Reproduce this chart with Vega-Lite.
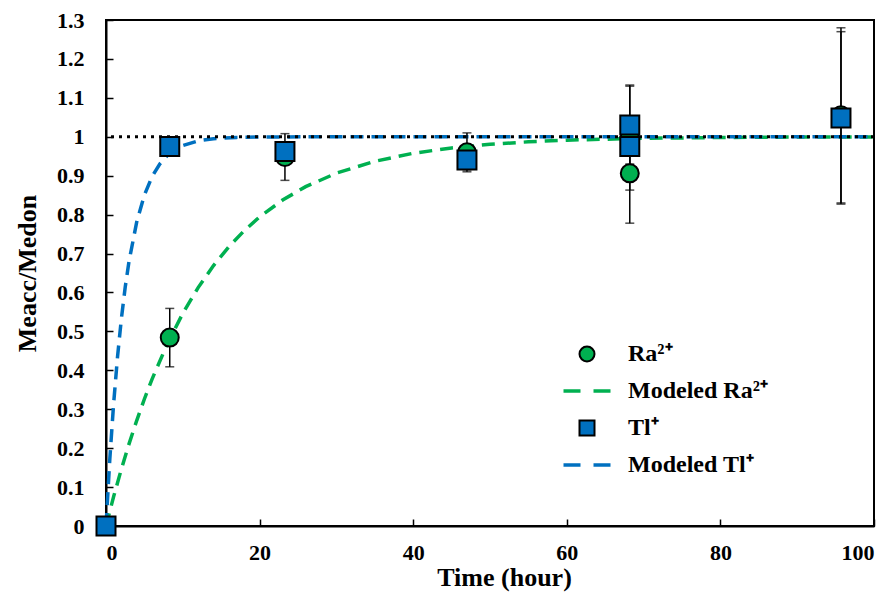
{
  "$schema": "https://vega.github.io/schema/vega-lite/v6.json",
  "width": 768,
  "height": 506,
  "autosize": {"type": "none"},
  "padding": {"left": 106, "top": 20, "right": 21, "bottom": 66},
  "background": "white",
  "config": {
    "view": {"stroke": "black", "strokeWidth": 2},
    "font": "Liberation Serif",
    "axis": {
      "labelFont": "Liberation Serif", "labelFontWeight": "bold", "labelFontSize": 22, "labelColor": "black",
      "titleFont": "Liberation Serif", "titleFontWeight": "bold", "titleColor": "black",
      "domainColor": "black", "domainWidth": 2, "tickColor": "black", "tickWidth": 1.5, "grid": false, "labelOverlap": false
    },
    "axisX": {"titleFontSize": 26, "tickSize": -7, "labelPadding": 23, "titlePadding": 1, "titleX": 398},
    "axisY": {"titleFontSize": 26, "tickSize": -7, "labelPadding": 29, "titlePadding": 16}
  },
  "datasets": {
    "obs": [
      {"t": 0, "y": 0, "series": "Ra²⁺"},
      {"t": 8.3, "y": 0.484, "lo": 0.409, "hi": 0.559, "series": "Ra²⁺"},
      {"t": 23.3, "y": 0.948, "lo": 0.888, "hi": 1.008, "series": "Ra²⁺"},
      {"t": 47, "y": 0.96, "lo": 0.91, "hi": 1.01, "series": "Ra²⁺"},
      {"t": 68.2, "y": 0.906, "lo": 0.778, "hi": 1.034, "series": "Ra²⁺"},
      {"t": 68.2, "y": 0.998, "lo": 0.863, "hi": 1.133, "series": "Ra²⁺"},
      {"t": 95.7, "y": 1.055, "lo": 0.827, "hi": 1.28, "series": "Ra²⁺"},
      {"t": 0, "y": 0, "series": "Tl⁺"},
      {"t": 8.3, "y": 0.975, "lo": 0.965, "hi": 0.985, "series": "Tl⁺"},
      {"t": 23.3, "y": 0.962, "lo": 0.94, "hi": 0.985, "series": "Tl⁺"},
      {"t": 47, "y": 0.94, "lo": 0.915, "hi": 0.965, "series": "Tl⁺"},
      {"t": 68.2, "y": 1.03, "lo": 0.93, "hi": 1.13, "series": "Tl⁺"},
      {"t": 68.2, "y": 0.975, "lo": 0.95, "hi": 1.0, "series": "Tl⁺"},
      {"t": 95.7, "y": 1.048, "lo": 0.83, "hi": 1.27, "series": "Tl⁺"}
    ],
    "model": [
      {"t": 0, "y": 0, "series": "Modeled Ra²⁺"},
      {"t": 1, "y": 0.076, "series": "Modeled Ra²⁺"},
      {"t": 2, "y": 0.1461, "series": "Modeled Ra²⁺"},
      {"t": 3, "y": 0.211, "series": "Modeled Ra²⁺"},
      {"t": 4, "y": 0.2709, "series": "Modeled Ra²⁺"},
      {"t": 5, "y": 0.3263, "series": "Modeled Ra²⁺"},
      {"t": 6, "y": 0.3775, "series": "Modeled Ra²⁺"},
      {"t": 8, "y": 0.4685, "series": "Modeled Ra²⁺"},
      {"t": 10, "y": 0.5462, "series": "Modeled Ra²⁺"},
      {"t": 12, "y": 0.6125, "series": "Modeled Ra²⁺"},
      {"t": 14, "y": 0.6691, "series": "Modeled Ra²⁺"},
      {"t": 16, "y": 0.7175, "series": "Modeled Ra²⁺"},
      {"t": 18, "y": 0.7588, "series": "Modeled Ra²⁺"},
      {"t": 20, "y": 0.794, "series": "Modeled Ra²⁺"},
      {"t": 23, "y": 0.8375, "series": "Modeled Ra²⁺"},
      {"t": 26, "y": 0.8718, "series": "Modeled Ra²⁺"},
      {"t": 30, "y": 0.9065, "series": "Modeled Ra²⁺"},
      {"t": 35, "y": 0.937, "series": "Modeled Ra²⁺"},
      {"t": 40, "y": 0.9576, "series": "Modeled Ra²⁺"},
      {"t": 45, "y": 0.9714, "series": "Modeled Ra²⁺"},
      {"t": 50, "y": 0.9807, "series": "Modeled Ra²⁺"},
      {"t": 55, "y": 0.987, "series": "Modeled Ra²⁺"},
      {"t": 60, "y": 0.9913, "series": "Modeled Ra²⁺"},
      {"t": 70, "y": 0.996, "series": "Modeled Ra²⁺"},
      {"t": 80, "y": 0.9982, "series": "Modeled Ra²⁺"},
      {"t": 90, "y": 0.9992, "series": "Modeled Ra²⁺"},
      {"t": 100, "y": 0.9996, "series": "Modeled Ra²⁺"},
      {"t": 0, "y": 0, "series": "Modeled Tl⁺"},
      {"t": 0.5, "y": 0.173, "series": "Modeled Tl⁺"},
      {"t": 1, "y": 0.3161, "series": "Modeled Tl⁺"},
      {"t": 1.5, "y": 0.4345, "series": "Modeled Tl⁺"},
      {"t": 2, "y": 0.5323, "series": "Modeled Tl⁺"},
      {"t": 2.5, "y": 0.6133, "series": "Modeled Tl⁺"},
      {"t": 3, "y": 0.6802, "series": "Modeled Tl⁺"},
      {"t": 4, "y": 0.7813, "series": "Modeled Tl⁺"},
      {"t": 5, "y": 0.8504, "series": "Modeled Tl⁺"},
      {"t": 6, "y": 0.8977, "series": "Modeled Tl⁺"},
      {"t": 7, "y": 0.9301, "series": "Modeled Tl⁺"},
      {"t": 8, "y": 0.9522, "series": "Modeled Tl⁺"},
      {"t": 10, "y": 0.9776, "series": "Modeled Tl⁺"},
      {"t": 12, "y": 0.9895, "series": "Modeled Tl⁺"},
      {"t": 14, "y": 0.9951, "series": "Modeled Tl⁺"},
      {"t": 17, "y": 0.9984, "series": "Modeled Tl⁺"},
      {"t": 20, "y": 0.9995, "series": "Modeled Tl⁺"},
      {"t": 30, "y": 1.0, "series": "Modeled Tl⁺"},
      {"t": 100, "y": 1.0, "series": "Modeled Tl⁺"}
    ]
  },
  "layer": [
    {
      "data": {"name": "obs"},
      "mark": {"type": "point", "filled": true, "opacity": 0},
      "encoding": {
        "x": {"field": "t", "type": "quantitative", "scale": {"domain": [0, 100], "nice": false},
          "axis": {"title": "Time (hour)", "values": [0, 20, 40, 60, 80, 100], "labelOverlap": false}},
        "y": {"field": "y", "type": "quantitative", "scale": {"domain": [0, 1.3], "nice": false},
          "axis": {"title": "Meacc/Medon", "values": [0, 0.1, 0.2, 0.3, 0.4, 0.5, 0.6, 0.7, 0.8, 0.9, 1, 1.1, 1.2, 1.3], "format": ".1~f", "labelOverlap": false}},
        "color": {
          "field": "series", "type": "nominal",
          "scale": {"domain": ["Ra²⁺", "Modeled Ra²⁺", "Tl⁺", "Modeled Tl⁺"], "range": ["#00b050", "#00b050", "#0070c0", "#0070c0"]},
          "legend": {
            "orient": "none", "legendX": 469, "legendY": 322, "title": null, "padding": 0,
            "symbolSize": 2209, "symbolOpacity": 1, "labelFont": "Liberation Serif", "labelFontWeight": "bold", "labelFontSize": 24, "labelColor": "black",
            "labelOffset": 29, "rowPadding": 13,
            "encode": {"symbols": {"update": {
              "shape": {"signal": "datum.value === 'Ra²⁺' ? 'circle' : datum.value === 'Tl⁺' ? 'square' : 'stroke'"},
              "size": {"signal": "(datum.value === 'Ra²⁺' || datum.value === 'Tl⁺') ? 225 : 2209"},
              "fill": {"signal": "datum.value === 'Ra²⁺' ? '#00b050' : datum.value === 'Tl⁺' ? '#0070c0' : 'transparent'"},
              "stroke": {"signal": "(datum.value === 'Ra²⁺' || datum.value === 'Tl⁺') ? 'black' : (datum.value === 'Modeled Ra²⁺' ? '#00b050' : '#0070c0')"},
              "strokeWidth": {"signal": "(datum.value === 'Ra²⁺' || datum.value === 'Tl⁺') ? 2 : 3.5"},
              "strokeDash": {"signal": "(datum.value === 'Ra²⁺' || datum.value === 'Tl⁺') ? [] : [17, 13]"},
              "opacity": {"value": 1}
            }}}
          }
        }
      }
    },
    {
      "data": {"name": "model"},
      "transform": [{"filter": "datum.series === 'Modeled Ra²⁺'"}],
      "mark": {"type": "line", "stroke": "#00b050", "strokeDash": [13, 8], "strokeWidth": 3.5},
      "encoding": {
        "x": {"field": "t", "type": "quantitative", "axis": {"title": "Time (hour)", "values": [0, 20, 40, 60, 80, 100], "labelOverlap": false}},
        "y": {"field": "y", "type": "quantitative", "axis": {"title": "Meacc/Medon", "values": [0, 0.1, 0.2, 0.3, 0.4, 0.5, 0.6, 0.7, 0.8, 0.9, 1, 1.1, 1.2, 1.3], "format": ".1~f", "labelOverlap": false}}
      }
    },
    {
      "data": {"name": "model"},
      "transform": [{"filter": "datum.series === 'Modeled Tl⁺'"}],
      "mark": {"type": "line", "stroke": "#0070c0", "strokeDash": [13, 8], "strokeWidth": 3.5},
      "encoding": {
        "x": {"field": "t", "type": "quantitative", "axis": {"title": "Time (hour)", "values": [0, 20, 40, 60, 80, 100], "labelOverlap": false}},
        "y": {"field": "y", "type": "quantitative", "axis": {"title": "Meacc/Medon", "values": [0, 0.1, 0.2, 0.3, 0.4, 0.5, 0.6, 0.7, 0.8, 0.9, 1, 1.1, 1.2, 1.3], "format": ".1~f", "labelOverlap": false}}
      }
    },
    {
      "data": {"values": [{}]},
      "mark": {"type": "rule", "color": "black", "strokeWidth": 3, "strokeDash": [3, 5]},
      "encoding": {"y": {"datum": 1, "type": "quantitative", "axis": {"title": "Meacc/Medon", "values": [0, 0.1, 0.2, 0.3, 0.4, 0.5, 0.6, 0.7, 0.8, 0.9, 1, 1.1, 1.2, 1.3], "format": ".1~f", "labelOverlap": false}}}
    },
    {
      "data": {"name": "obs"},
      "transform": [{"filter": "isValid(datum.lo)"}],
      "mark": {"type": "errorbar", "color": "black", "thickness": 1.5, "ticks": {"size": 9, "color": "black", "thickness": 1.5}},
      "encoding": {
        "x": {"field": "t", "type": "quantitative", "axis": {"title": "Time (hour)", "values": [0, 20, 40, 60, 80, 100], "labelOverlap": false}},
        "y": {"field": "lo", "type": "quantitative", "axis": {"title": "Meacc/Medon", "values": [0, 0.1, 0.2, 0.3, 0.4, 0.5, 0.6, 0.7, 0.8, 0.9, 1, 1.1, 1.2, 1.3], "format": ".1~f", "labelOverlap": false}},
        "y2": {"field": "hi"}
      }
    },
    {
      "data": {"name": "obs"},
      "transform": [{"filter": "datum.series === 'Ra²⁺'"}],
      "mark": {"type": "point", "shape": "circle", "filled": true, "fill": "#00b050", "stroke": "black", "strokeWidth": 2, "size": 324, "opacity": 1},
      "encoding": {
        "x": {"field": "t", "type": "quantitative", "axis": {"title": "Time (hour)", "values": [0, 20, 40, 60, 80, 100], "labelOverlap": false}},
        "y": {"field": "y", "type": "quantitative", "axis": {"title": "Meacc/Medon", "values": [0, 0.1, 0.2, 0.3, 0.4, 0.5, 0.6, 0.7, 0.8, 0.9, 1, 1.1, 1.2, 1.3], "format": ".1~f", "labelOverlap": false}}
      }
    },
    {
      "data": {"name": "obs"},
      "transform": [{"filter": "datum.series === 'Tl⁺'"}],
      "mark": {"type": "point", "shape": "square", "filled": true, "fill": "#0070c0", "stroke": "black", "strokeWidth": 2, "size": 361, "opacity": 1},
      "encoding": {
        "x": {"field": "t", "type": "quantitative", "axis": {"title": "Time (hour)", "values": [0, 20, 40, 60, 80, 100], "labelOverlap": false}},
        "y": {"field": "y", "type": "quantitative", "axis": {"title": "Meacc/Medon", "values": [0, 0.1, 0.2, 0.3, 0.4, 0.5, 0.6, 0.7, 0.8, 0.9, 1, 1.1, 1.2, 1.3], "format": ".1~f", "labelOverlap": false}}
      }
    }
  ]
}
